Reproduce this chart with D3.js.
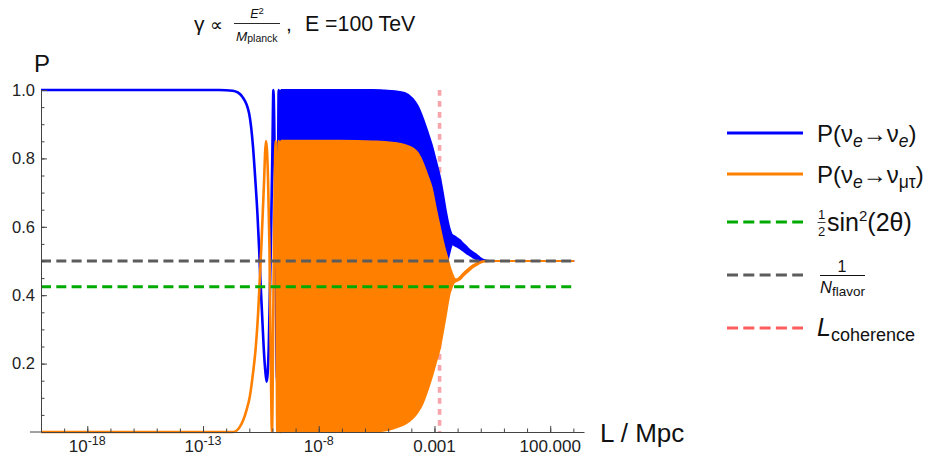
<!DOCTYPE html>
<html>
<head>
<meta charset="utf-8">
<script src="https://cdn.jsdelivr.net/npm/d3@7"></script>
<style>
  html, body { margin: 0; padding: 0; background: #fff; }
  svg { display: block; font-family: "Liberation Sans", Arial, sans-serif; }
</style>
</head>
<body>
<svg id="chart" width="930" height="456"></svg>
<script>
// Values, x given as log10(L / Mpc).

// Early, still resolvable oscillations (drawn as lines).
const blueLineLogL = [-20, -12.3, -11.72, -11.5, -11.3, -11.01, -10.84, -10.74, -10.65, -10.58, -10.52, -10.45,
  -10.38, -10.3, -10.25, -10.16, -10.07, -10.0, -9.96, -9.89, -9.8, -9.73, -9.68, -9.63];
const blueLineP = [1.0, 1.0, 0.998, 0.993, 0.98, 0.932, 0.834, 0.737, 0.639, 0.542, 0.444, 0.347,
  0.249, 0.172, 0.147, 0.249, 0.542, 0.834, 1.0, 0.737, 0.147, 1.0, 0.15, 1.0];

const orangeLineLogL = [-20, -11.7, -11.41, -11.12, -10.98, -10.84, -10.72, -10.62, -10.55, -10.48, -10.42,
  -10.36, -10.32, -10.28, -10.19, -10.13, -10.08, -10.02, -9.95, -9.86, -9.79, -9.73, -9.68, -9.63];
const orangeLineP = [0, 0, 0.015, 0.064, 0.103, 0.172, 0.249, 0.347, 0.444, 0.542, 0.639,
  0.737, 0.815, 0.851, 0.737, 0.542, 0.249, 0, 0.444, 0.851, 0, 0.851, 0, 0.851];

// Fast oscillations, shown as filled envelopes.
const bandLogL = [-9.61, -8.82, -7.1, -5.67, -5.15, -4.72, -4.29, -3.94, -3.73, -3.51, -3.3, -3.12, -2.95,
  -2.78, -2.65, -2.52, -2.42, -2.35, -2.27, -2.2, -2.13, -2.04, -1.91, -1.77, -1.63, -1.48, -1.34, -1.19,
  -1.05, -0.84, -0.62, 3.0];
const blueUpper = [1.0, 1.0, 1.0, 1.0, 0.998, 0.996, 0.991, 0.974, 0.953, 0.918, 0.877, 0.839, 0.795,
  0.749, 0.702, 0.649, 0.614, 0.594, 0.579, 0.574, 0.572, 0.567, 0.561, 0.551, 0.542, 0.532, 0.525, 0.518,
  0.51, 0.502, 0.5, 0.5];
const blueLower = [0.15, 0.15, 0.15, 0.15, 0.152, 0.155, 0.16, 0.17, 0.185, 0.21, 0.24, 0.27, 0.31,
  0.36, 0.41, 0.47, 0.506, 0.526, 0.545, 0.55, 0.546, 0.543, 0.538, 0.531, 0.524, 0.517, 0.511, 0.506,
  0.503, 0.5, 0.5, 0.5];
const orangeUpper = [0.851, 0.851, 0.851, 0.849, 0.848, 0.845, 0.839, 0.829, 0.816, 0.787, 0.749, 0.713, 0.655,
  0.602, 0.561, 0.526, 0.503, 0.485, 0.468, 0.456, 0.447, 0.446, 0.452, 0.462, 0.471, 0.48, 0.487, 0.493,
  0.497, 0.5, 0.5, 0.5];
const orangeLower = [0, 0, 0, 0.0015, 0.0044, 0.012, 0.023, 0.041, 0.058, 0.085, 0.123, 0.161, 0.202,
  0.243, 0.289, 0.339, 0.38, 0.404, 0.421, 0.433, 0.439, 0.442, 0.446, 0.456, 0.465, 0.474, 0.482, 0.488,
  0.494, 0.499, 0.5, 0.5];

const halfSin2 = 0.425;      // (1/2) sin^2(2θ)
const invNflavor = 0.5;      // 1 / N_flavor
const lCoherenceLog = -2.78; // L_coherence
const lMaxLog = 3;

const xMajorLogL = [-18, -13, -8, -3, 2];
const xMajorLabels = [['10', '-18'], ['10', '-13'], ['10', '-8'], ['0.001', ''], ['100.000', '']];
const xMinorLogL = d3.range(-19, 4);
const yMajorTicks = [0.2, 0.4, 0.6, 0.8, 1.0];
const yMinorTicks = d3.range(1, 20).map((i) => i * 0.05);

const colors = {
  blue: '#0000ff',
  orange: '#ff8000',
  green: '#00aa00',
  gray: '#5c5c5c',
  pink: '#ff5c5c',
  pinkPlot: '#f8a4ab',
  axis: '#444',
};

const svg = d3.select('#chart');

const x = d3.scaleLog().domain([1e-20, Math.pow(10, 3.46)]).range([41, 584]);
const y = d3.scaleLinear().domain([0, 1]).range([432, 90]);
const px = (logL) => x(Math.pow(10, logL));

// L_coherence marker sits under the curves.
svg.append('line')
  .attr('x1', px(lCoherenceLog)).attr('x2', px(lCoherenceLog))
  .attr('y1', y(1)).attr('y2', y(0))
  .attr('stroke', colors.pinkPlot)
  .attr('stroke-width', 3.6)
  .attr('stroke-dasharray', '5.7,5.3');

const line = d3.line()
  .x((d) => px(d[0]))
  .y((d) => y(d[1]))
  .curve(d3.curveMonotoneX);

const band = d3.area()
  .x((d) => px(d[0]))
  .y0((d) => y(d[1]))
  .y1((d) => y(d[2]))
  .curve(d3.curveMonotoneX);

function drawSeries(color, lineLogL, lineP, lower, upper) {
  svg.append('path')
    .datum(d3.zip(lineLogL, lineP))
    .attr('d', line)
    .attr('fill', 'none')
    .attr('stroke', color)
    .attr('stroke-width', 2.6);
  svg.append('path')
    .datum(d3.zip(bandLogL, lower, upper))
    .attr('d', band)
    .attr('fill', color)
    .attr('stroke', color)
    .attr('stroke-width', 2.2)
    .attr('stroke-linejoin', 'round');
}

drawSeries(colors.blue, blueLineLogL, blueLineP, blueLower, blueUpper);
drawSeries(colors.orange, orangeLineLogL, orangeLineP, orangeLower, orangeUpper);

// Reference levels on top.
[[halfSin2, colors.green], [invNflavor, colors.gray]].forEach(([p, c]) => {
  svg.append('line')
    .attr('x1', x(1e-20)).attr('x2', px(lMaxLog))
    .attr('y1', y(p)).attr('y2', y(p))
    .attr('stroke', c)
    .attr('stroke-width', 3)
    .attr('stroke-dasharray', '10,5.3');
});

// Axes.
const xAxisG = svg.append('g').attr('transform', `translate(0,${y(0)})`);
xAxisG.call(d3.axisBottom(x).tickValues(xMinorLogL.map((e) => Math.pow(10, e)))
  .tickSize(-3.5).tickSizeOuter(0).tickFormat(''));
xAxisG.append('g').call(d3.axisBottom(x).tickValues(xMajorLogL.map((e) => Math.pow(10, e)))
  .tickSize(-6).tickSizeOuter(0).tickFormat(''))
  .select('.domain').remove();
xAxisG.append('line').attr('x1', 30).attr('x2', 41).attr('stroke', colors.axis);
xAxisG.selectAll('path, line').attr('stroke', colors.axis);

const xLabels = svg.append('g');
xMajorLogL.forEach((e, i) => {
  const [base, sup] = xMajorLabels[i];
  const t = xLabels.append('text')
    .attr('x', px(e)).attr('y', 452)
    .attr('text-anchor', 'middle')
    .attr('font-size', 17)
    .attr('fill', '#222');
  t.append('tspan').text(base);
  if (sup) {
    t.append('tspan').attr('dy', -7.5).attr('font-size', 12.5).text(sup);
  }
});

const yAxisG = svg.append('g').attr('transform', `translate(${x(1e-20)},0)`);
yAxisG.call(d3.axisLeft(y).tickValues(yMinorTicks).tickSize(-3.5).tickSizeOuter(0).tickFormat(''));
yAxisG.append('g').call(d3.axisLeft(y).tickValues(yMajorTicks).tickSize(-6).tickSizeOuter(0)
  .tickPadding(6).tickFormat(d3.format('.1f')))
  .call((g) => g.select('.domain').remove())
  .call((g) => g.selectAll('text').attr('font-size', 16.5).attr('fill', '#222')
    .attr('font-family', '"Liberation Sans", Arial, sans-serif'));
yAxisG.selectAll('path, line').attr('stroke', colors.axis);

svg.append('text').attr('x', 34).attr('y', 72).attr('font-size', 24).attr('fill', '#111').text('P');
svg.append('text').attr('x', 600).attr('y', 442).attr('font-size', 26).attr('fill', '#111').text('L / Mpc');

// Title: γ ∝ E²/M_planck ,  E =100 TeV
const title = svg.append('g').attr('fill', '#111');
title.append('text').attr('x', 194).attr('y', 31).attr('font-size', 21).text('γ');
title.append('text').attr('x', 210).attr('y', 31).attr('font-size', 18).text('∝');
const num = title.append('text').attr('x', 257).attr('y', 18).attr('text-anchor', 'middle').attr('font-size', 12.5);
num.append('tspan').attr('font-style', 'italic').text('E');
num.append('tspan').attr('dy', -4).attr('font-size', 9.5).text('2');
title.append('line').attr('x1', 234).attr('x2', 280).attr('y1', 23.5).attr('y2', 23.5)
  .attr('stroke', '#111').attr('stroke-width', 0.9);
const den = title.append('text').attr('x', 236).attr('y', 41).attr('font-size', 13.5);
den.append('tspan').attr('font-style', 'italic').text('M');
den.append('tspan').attr('font-size', 10.5).attr('dy', 1).text('planck');
title.append('text').attr('x', 286).attr('y', 31).attr('font-size', 21).text(',');
title.append('text').attr('x', 305).attr('y', 31).attr('font-size', 21.3).text('E =100 TeV');

// Legend.
const legend = svg.append('g').attr('fill', '#111');
const legendItems = [
  {yy: 133, color: colors.blue, dash: null},
  {yy: 174, color: colors.orange, dash: null},
  {yy: 222, color: colors.green, dash: '11,5.3'},
  {yy: 275, color: colors.gray, dash: '11,5.3'},
  {yy: 328, color: colors.pink, dash: '11,5.3'},
];
legendItems.forEach((it) => {
  legend.append('line')
    .attr('x1', 727).attr('x2', 803).attr('y1', it.yy).attr('y2', it.yy)
    .attr('stroke', it.color).attr('stroke-width', 3)
    .attr('stroke-dasharray', it.dash);
});

const lf = 24;
const sf = 17.5;
function transition(t, sub, italic) {
  t.append('tspan').text('P(ν');
  t.append('tspan').attr('font-style', 'italic').attr('font-size', sf).attr('dy', 5).text('e');
  t.append('tspan').attr('dy', -5).text('→ν');
  t.append('tspan').attr('font-style', italic ? 'italic' : null).attr('font-size', sf).attr('dy', 5).text(sub);
  t.append('tspan').attr('dy', -5).text(')');
}
transition(legend.append('text').attr('x', 817).attr('y', 142).attr('font-size', lf), 'e', true);
transition(legend.append('text').attr('x', 817).attr('y', 183).attr('font-size', lf), 'μτ', false);

legend.append('text').attr('x', 821.5).attr('y', 219).attr('text-anchor', 'middle').attr('font-size', 13).text('1');
legend.append('line').attr('x1', 817.5).attr('x2', 825.5).attr('y1', 222.5).attr('y2', 222.5)
  .attr('stroke', '#111').attr('stroke-width', 0.8);
legend.append('text').attr('x', 821.5).attr('y', 236).attr('text-anchor', 'middle').attr('font-size', 13).text('2');
const t3 = legend.append('text').attr('x', 827).attr('y', 231).attr('font-size', 25);
t3.append('tspan').text('sin');
t3.append('tspan').attr('font-size', 15).attr('dy', -10).text('2');
t3.append('tspan').attr('dy', 10).text('(2θ)');

legend.append('text').attr('x', 842).attr('y', 272).attr('text-anchor', 'middle').attr('font-size', 16).text('1');
legend.append('line').attr('x1', 820).attr('x2', 865).attr('y1', 275.5).attr('y2', 275.5)
  .attr('stroke', '#111').attr('stroke-width', 1);
const t4 = legend.append('text').attr('x', 820).attr('y', 293).attr('font-size', 16.5);
t4.append('tspan').attr('font-style', 'italic').text('N');
t4.append('tspan').attr('font-size', 13.5).attr('dy', 3).text('flavor');

const t5 = legend.append('text').attr('x', 817).attr('y', 336).attr('font-size', 25);
t5.append('tspan').attr('font-style', 'italic').text('L');
t5.append('tspan').attr('font-size', 18).attr('dy', 5).text('coherence');
</script>
</body>
</html>
